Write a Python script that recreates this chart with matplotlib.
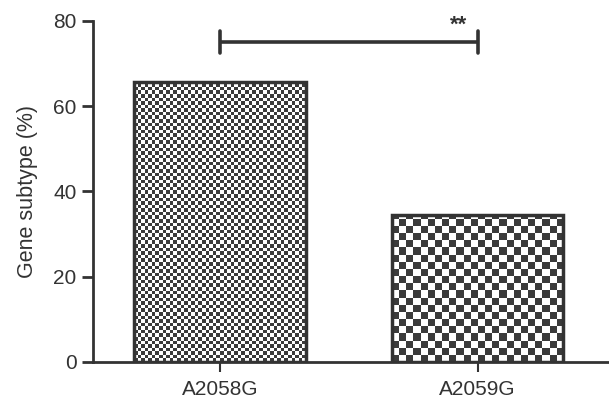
import numpy as np
import matplotlib.pyplot as plt

categories = ['A2058G', 'A2059G']
values = [65.7, 34.4]
# checkerboard cells across each bar (fine vs coarse)
checker_cells = [24, 12]
bracket_y = 75
sig_label = '**'

plt.rcParams['font.family'] = ['Liberation Sans', 'DejaVu Sans']

fig = plt.figure(figsize=(6.09, 4.03), dpi=100)
ax = fig.add_axes([0.153, 0.102, 0.845, 0.846])

x = np.arange(len(categories))
width = 0.665
bars = ax.bar(x, values, width=width, facecolor='none', edgecolor='#333333',
              linewidth=2.5, zorder=3)

for bar, n in zip(bars, checker_cells):
    x0, w, h = bar.get_x(), bar.get_width(), bar.get_height()
    # keep cells square in pixels
    px_w = w * 258
    px_h = h * 341 / 80
    cell = px_w / (2 * n)
    nx = int(round(px_w / cell))
    ny = int(np.ceil(px_h / cell))
    ii, jj = np.indices((ny, nx))
    board = ((ii + jj) % 2).astype(float)
    im = ax.imshow(board, cmap='gray', vmin=-0.3, vmax=1.0,
                   extent=[x0, x0 + w, 0, ny * cell * 80 / 341],
                   origin='lower', interpolation='nearest', aspect='auto', zorder=2)
    im.set_clip_path(bar)

ax.set_xlim(-0.492, 1.505)
ax.set_ylim(0, 80)
ax.set_aspect('auto')
ax.set_yticks([0, 20, 40, 60, 80])
ax.set_xticks(x)
ax.set_xticklabels(categories)
ax.set_ylabel('Gene subtype (%)', fontsize=15.5, color='#333333', labelpad=11)

for s in ['top', 'right']:
    ax.spines[s].set_visible(False)
for s in ['left', 'bottom']:
    ax.spines[s].set_linewidth(2.0)
    ax.spines[s].set_color('#333333')
ax.tick_params(axis='y', length=8, width=2, color='#333333', labelsize=15,
               labelcolor='#333333', pad=4)
ax.tick_params(axis='x', length=7, width=1.5, color='#333333', labelsize=15,
               labelcolor='#333333', pad=6)

# significance bracket
ax.plot([x[0], x[1]], [bracket_y, bracket_y], color='#333333', lw=2.6,
        solid_capstyle='butt', clip_on=False)
for xi in x:
    ax.plot([xi, xi], [bracket_y - 2.6, bracket_y + 2.6], color='#333333',
            lw=2.6, solid_capstyle='round', clip_on=False)
ax.text(x[1] - 0.074, 77.6, sig_label, ha='center', va='baseline',
        fontsize=16, fontweight='bold', color='#333333', clip_on=False)

fig.savefig('out.png', dpi=100)
